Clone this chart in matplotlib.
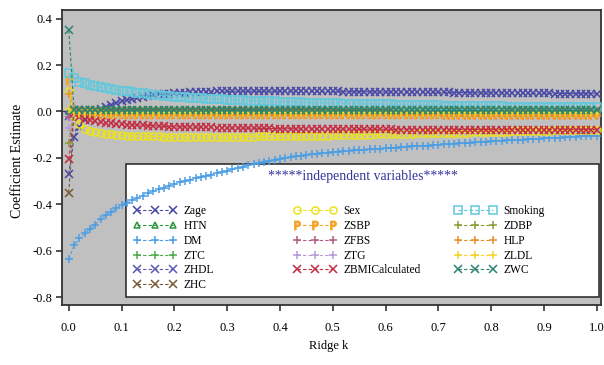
import numpy as np
import matplotlib
matplotlib.use("Agg")
import matplotlib.pyplot as plt
from matplotlib.patches import Rectangle

plt.rcParams["font.family"] = ["Liberation Serif", "DejaVu Serif"]
plt.rcParams["axes.unicode_minus"] = False

# ridge trace grid: k = 0.00, 0.01, ..., 1.00
ridge_k = np.linspace(0.0, 1.0, 101)

zage = [
    -0.270, -0.110, -0.065, -0.035, -0.015, -0.002, 0.010, 0.020, 0.029, 0.037, 0.044,
    0.050, 0.055, 0.060, 0.064, 0.067, 0.070, 0.073, 0.075, 0.077, 0.079,
    0.080, 0.081, 0.082, 0.083, 0.084, 0.085, 0.085, 0.086, 0.086, 0.086,
    0.087, 0.087, 0.087, 0.087, 0.087, 0.087, 0.087, 0.087, 0.087, 0.087,
    0.087, 0.087, 0.086, 0.086, 0.086, 0.086, 0.086, 0.086, 0.086, 0.086,
    0.086, 0.085, 0.085, 0.085, 0.085, 0.085, 0.085, 0.084, 0.084, 0.084,
    0.084, 0.084, 0.083, 0.083, 0.083, 0.083, 0.083, 0.082, 0.082, 0.082,
    0.082, 0.082, 0.081, 0.081, 0.081, 0.081, 0.080, 0.080, 0.080, 0.080,
    0.080, 0.079, 0.079, 0.079, 0.079, 0.079, 0.078, 0.078, 0.078, 0.078,
    0.078, 0.077, 0.077, 0.077, 0.077, 0.077, 0.076, 0.076, 0.076, 0.076,
]
htn = [
    0.002, 0.004, 0.004, 0.003, 0.003, 0.003, 0.003, 0.002, 0.002, 0.002, 0.002,
    0.002, 0.002, 0.002, 0.002, 0.002, 0.002, 0.002, 0.002, 0.002, 0.002,
    0.002, 0.002, 0.002, 0.002, 0.002, 0.002, 0.002, 0.002, 0.002, 0.002,
    0.002, 0.002, 0.002, 0.002, 0.002, 0.001, 0.001, 0.001, 0.001, 0.001,
    0.001, 0.001, 0.001, 0.001, 0.001, 0.001, 0.001, 0.001, 0.001, 0.001,
    0.001, 0.001, 0.001, 0.001, 0.001, 0.001, 0.001, 0.001, 0.001, 0.001,
    0.001, 0.001, 0.001, 0.001, 0.001, 0.001, 0.001, 0.001, 0.001, 0.001,
    0.001, 0.001, 0.001, 0.001, 0.001, 0.001, 0.001, 0.001, 0.001, 0.001,
    0.001, 0.001, 0.001, 0.001, 0.001, 0.001, 0.001, 0.001, 0.001, 0.001,
    0.001, 0.001, 0.001, 0.001, 0.001, 0.001, 0.001, 0.001, 0.001, 0.001,
]
dm = [
    -0.637, -0.576, -0.546, -0.525, -0.507, -0.488, -0.463, -0.447, -0.432, -0.418, -0.405,
    -0.394, -0.383, -0.373, -0.363, -0.352, -0.344, -0.336, -0.328, -0.320, -0.313,
    -0.306, -0.300, -0.294, -0.288, -0.282, -0.277, -0.272, -0.267, -0.262, -0.255,
    -0.250, -0.244, -0.238, -0.232, -0.227, -0.222, -0.217, -0.212, -0.208, -0.204,
    -0.200, -0.197, -0.194, -0.191, -0.188, -0.185, -0.182, -0.180, -0.178, -0.176,
    -0.174, -0.172, -0.170, -0.168, -0.167, -0.165, -0.163, -0.162, -0.160, -0.159,
    -0.157, -0.156, -0.154, -0.153, -0.151, -0.150, -0.148, -0.147, -0.145, -0.144,
    -0.142, -0.141, -0.139, -0.138, -0.136, -0.135, -0.133, -0.132, -0.131, -0.129,
    -0.128, -0.127, -0.125, -0.124, -0.123, -0.121, -0.120, -0.119, -0.118, -0.116,
    -0.115, -0.114, -0.113, -0.112, -0.111, -0.109, -0.108, -0.107, -0.106, -0.105,
]
ztc = [
    -0.012, -0.003, -0.002, -0.002, -0.002, -0.001, -0.001, -0.001, -0.001, -0.001, -0.001,
    -0.001, -0.001, -0.001, -0.001, -0.001, -0.001, -0.001, -0.001, -0.001, -0.001,
    -0.001, -0.001, -0.001, -0.001, -0.001, -0.001, -0.001, -0.001, -0.001, -0.001,
    -0.001, -0.001, -0.001, -0.001, -0.001, -0.001, -0.001, -0.001, -0.001, -0.001,
    -0.001, -0.001, -0.001, -0.001, -0.001, -0.001, -0.001, -0.001, -0.001, -0.001,
    -0.001, -0.001, -0.001, -0.001, -0.001, -0.001, -0.001, -0.001, -0.001, -0.001,
    -0.001, -0.001, -0.001, -0.001, -0.001, -0.001, -0.001, -0.001, -0.001, -0.001,
    -0.001, -0.001, -0.001, -0.001, -0.001, -0.001, -0.001, -0.001, -0.001, -0.001,
    -0.001, -0.001, -0.001, -0.001, -0.001, -0.001, -0.001, -0.001, -0.001, -0.001,
    -0.001, -0.001, -0.001, -0.001, -0.001, -0.001, -0.001, -0.001, -0.001, -0.001,
]
zhdl = [
    -0.020, -0.004, -0.003, -0.003, -0.002, -0.002, -0.002, -0.002, -0.002, -0.002, -0.002,
    -0.002, -0.002, -0.002, -0.002, -0.002, -0.002, -0.002, -0.002, -0.002, -0.002,
    -0.002, -0.002, -0.002, -0.002, -0.002, -0.002, -0.002, -0.002, -0.002, -0.002,
    -0.002, -0.002, -0.002, -0.002, -0.002, -0.002, -0.002, -0.002, -0.002, -0.002,
    -0.002, -0.002, -0.002, -0.002, -0.002, -0.002, -0.002, -0.002, -0.002, -0.002,
    -0.002, -0.002, -0.002, -0.002, -0.002, -0.002, -0.002, -0.002, -0.002, -0.002,
    -0.002, -0.002, -0.002, -0.002, -0.002, -0.002, -0.002, -0.002, -0.002, -0.002,
    -0.002, -0.002, -0.002, -0.002, -0.002, -0.002, -0.002, -0.002, -0.002, -0.002,
    -0.002, -0.002, -0.002, -0.002, -0.002, -0.002, -0.002, -0.002, -0.002, -0.002,
    -0.002, -0.002, -0.002, -0.002, -0.002, -0.002, -0.002, -0.002, -0.002, -0.002,
]
zhc = [
    -0.350, 0.006, 0.005, 0.004, 0.004, 0.003, 0.003, 0.003, 0.003, 0.003, 0.003,
    0.003, 0.003, 0.003, 0.003, 0.003, 0.003, 0.003, 0.003, 0.003, 0.003,
    0.003, 0.003, 0.003, 0.003, 0.003, 0.003, 0.003, 0.003, 0.003, 0.003,
    0.003, 0.003, 0.003, 0.003, 0.003, 0.003, 0.003, 0.003, 0.003, 0.003,
    0.003, 0.003, 0.003, 0.003, 0.003, 0.003, 0.003, 0.003, 0.003, 0.003,
    0.003, 0.003, 0.003, 0.003, 0.003, 0.003, 0.003, 0.003, 0.003, 0.003,
    0.003, 0.003, 0.003, 0.003, 0.003, 0.003, 0.003, 0.003, 0.003, 0.003,
    0.003, 0.003, 0.003, 0.003, 0.003, 0.003, 0.003, 0.003, 0.003, 0.003,
    0.003, 0.003, 0.003, 0.003, 0.003, 0.003, 0.003, 0.003, 0.003, 0.003,
    0.003, 0.003, 0.003, 0.003, 0.003, 0.003, 0.003, 0.003, 0.003, 0.003,
]
sex = [
    0.090, -0.020, -0.055, -0.075, -0.085, -0.090, -0.094, -0.097, -0.099, -0.101, -0.103,
    -0.104, -0.105, -0.106, -0.107, -0.107, -0.108, -0.108, -0.109, -0.109, -0.109,
    -0.110, -0.110, -0.110, -0.110, -0.110, -0.110, -0.110, -0.110, -0.110, -0.110,
    -0.110, -0.109, -0.109, -0.109, -0.109, -0.108, -0.108, -0.108, -0.107, -0.107,
    -0.107, -0.106, -0.106, -0.106, -0.105, -0.105, -0.104, -0.104, -0.104, -0.103,
    -0.103, -0.102, -0.102, -0.101, -0.101, -0.100, -0.100, -0.099, -0.099, -0.098,
    -0.098, -0.097, -0.097, -0.096, -0.096, -0.095, -0.095, -0.094, -0.094, -0.093,
    -0.093, -0.092, -0.092, -0.091, -0.091, -0.090, -0.090, -0.089, -0.089, -0.088,
    -0.088, -0.087, -0.087, -0.086, -0.086, -0.085, -0.085, -0.084, -0.084, -0.083,
    -0.083, -0.082, -0.082, -0.081, -0.081, -0.080, -0.080, -0.079, -0.079, -0.078,
]
zsbp = [
    0.135, -0.004, -0.006, -0.007, -0.008, -0.008, -0.009, -0.009, -0.009, -0.010, -0.010,
    -0.010, -0.010, -0.010, -0.010, -0.010, -0.010, -0.010, -0.010, -0.010, -0.010,
    -0.010, -0.010, -0.010, -0.010, -0.010, -0.010, -0.010, -0.010, -0.010, -0.010,
    -0.010, -0.010, -0.010, -0.010, -0.010, -0.010, -0.010, -0.010, -0.010, -0.010,
    -0.010, -0.010, -0.010, -0.010, -0.010, -0.010, -0.010, -0.010, -0.010, -0.010,
    -0.010, -0.010, -0.010, -0.010, -0.010, -0.010, -0.010, -0.010, -0.010, -0.010,
    -0.010, -0.010, -0.010, -0.010, -0.010, -0.010, -0.010, -0.010, -0.010, -0.010,
    -0.010, -0.010, -0.010, -0.010, -0.010, -0.010, -0.010, -0.010, -0.010, -0.010,
    -0.010, -0.010, -0.010, -0.010, -0.010, -0.010, -0.010, -0.010, -0.010, -0.010,
    -0.010, -0.010, -0.010, -0.010, -0.010, -0.010, -0.010, -0.010, -0.010, -0.010,
]
zfbs = [
    -0.025, -0.005, -0.004, -0.004, -0.004, -0.004, -0.004, -0.004, -0.004, -0.004, -0.004,
    -0.004, -0.004, -0.004, -0.004, -0.004, -0.004, -0.004, -0.004, -0.004, -0.004,
    -0.004, -0.004, -0.004, -0.004, -0.004, -0.004, -0.004, -0.004, -0.004, -0.004,
    -0.004, -0.004, -0.004, -0.004, -0.004, -0.004, -0.004, -0.004, -0.004, -0.004,
    -0.004, -0.004, -0.004, -0.004, -0.004, -0.004, -0.004, -0.004, -0.004, -0.004,
    -0.004, -0.004, -0.004, -0.004, -0.004, -0.004, -0.004, -0.004, -0.004, -0.004,
    -0.004, -0.004, -0.004, -0.004, -0.004, -0.004, -0.004, -0.004, -0.004, -0.004,
    -0.004, -0.004, -0.004, -0.004, -0.004, -0.004, -0.004, -0.004, -0.004, -0.004,
    -0.004, -0.004, -0.004, -0.004, -0.004, -0.004, -0.004, -0.004, -0.004, -0.004,
    -0.004, -0.004, -0.004, -0.004, -0.004, -0.004, -0.004, -0.004, -0.004, -0.004,
]
ztg = [
    -0.070, -0.004, -0.003, -0.003, -0.003, -0.003, -0.003, -0.003, -0.003, -0.003, -0.003,
    -0.003, -0.003, -0.003, -0.003, -0.003, -0.003, -0.003, -0.003, -0.003, -0.003,
    -0.003, -0.003, -0.003, -0.003, -0.003, -0.003, -0.003, -0.003, -0.003, -0.003,
    -0.003, -0.003, -0.003, -0.003, -0.003, -0.003, -0.003, -0.003, -0.003, -0.003,
    -0.003, -0.003, -0.003, -0.003, -0.003, -0.003, -0.003, -0.003, -0.003, -0.003,
    -0.003, -0.003, -0.003, -0.003, -0.003, -0.003, -0.003, -0.003, -0.003, -0.003,
    -0.003, -0.003, -0.003, -0.003, -0.003, -0.003, -0.003, -0.003, -0.003, -0.003,
    -0.003, -0.003, -0.003, -0.003, -0.003, -0.003, -0.003, -0.003, -0.003, -0.003,
    -0.003, -0.003, -0.003, -0.003, -0.003, -0.003, -0.003, -0.003, -0.003, -0.003,
    -0.003, -0.003, -0.003, -0.003, -0.003, -0.003, -0.003, -0.003, -0.003, -0.003,
]
zbmi = [
    -0.205, -0.008, -0.022, -0.031, -0.038, -0.043, -0.047, -0.050, -0.052, -0.054, -0.056,
    -0.057, -0.058, -0.059, -0.060, -0.061, -0.062, -0.063, -0.064, -0.065, -0.066,
    -0.066, -0.067, -0.067, -0.068, -0.068, -0.069, -0.069, -0.070, -0.070, -0.071,
    -0.071, -0.071, -0.072, -0.072, -0.072, -0.073, -0.073, -0.073, -0.074, -0.074,
    -0.074, -0.074, -0.075, -0.075, -0.075, -0.075, -0.075, -0.076, -0.076, -0.076,
    -0.076, -0.076, -0.076, -0.077, -0.077, -0.077, -0.077, -0.077, -0.077, -0.077,
    -0.077, -0.078, -0.078, -0.078, -0.078, -0.078, -0.078, -0.078, -0.078, -0.078,
    -0.078, -0.078, -0.078, -0.078, -0.078, -0.078, -0.078, -0.078, -0.078, -0.078,
    -0.078, -0.078, -0.078, -0.078, -0.078, -0.078, -0.078, -0.078, -0.078, -0.078,
    -0.078, -0.078, -0.078, -0.078, -0.078, -0.078, -0.078, -0.078, -0.078, -0.078,
]
smoking = [
    0.165, 0.142, 0.128, 0.121, 0.116, 0.111, 0.106, 0.102, 0.098, 0.094, 0.090,
    0.087, 0.084, 0.081, 0.078, 0.075, 0.072, 0.070, 0.068, 0.066, 0.064,
    0.062, 0.061, 0.059, 0.058, 0.057, 0.055, 0.054, 0.053, 0.052, 0.051,
    0.050, 0.049, 0.048, 0.047, 0.046, 0.045, 0.044, 0.043, 0.043, 0.042,
    0.041, 0.040, 0.040, 0.039, 0.038, 0.038, 0.037, 0.036, 0.036, 0.035,
    0.035, 0.034, 0.034, 0.033, 0.033, 0.032, 0.032, 0.031, 0.031, 0.030,
    0.030, 0.029, 0.029, 0.028, 0.028, 0.027, 0.027, 0.027, 0.026, 0.026,
    0.025, 0.025, 0.025, 0.024, 0.024, 0.024, 0.023, 0.023, 0.023, 0.022,
    0.022, 0.022, 0.021, 0.021, 0.021, 0.020, 0.020, 0.020, 0.019, 0.019,
    0.019, 0.019, 0.018, 0.018, 0.018, 0.018, 0.017, 0.017, 0.017, 0.017,
]
zdbp = [
    -0.135, 0.003, 0.003, 0.002, 0.002, 0.002, 0.002, 0.002, 0.002, 0.002, 0.002,
    0.002, 0.002, 0.002, 0.002, 0.002, 0.002, 0.002, 0.002, 0.002, 0.002,
    0.002, 0.002, 0.002, 0.002, 0.002, 0.002, 0.002, 0.002, 0.002, 0.002,
    0.002, 0.002, 0.002, 0.002, 0.002, 0.002, 0.002, 0.002, 0.002, 0.002,
    0.002, 0.002, 0.002, 0.002, 0.002, 0.002, 0.002, 0.002, 0.002, 0.002,
    0.002, 0.002, 0.002, 0.002, 0.002, 0.002, 0.002, 0.002, 0.002, 0.002,
    0.002, 0.002, 0.002, 0.002, 0.002, 0.002, 0.002, 0.002, 0.002, 0.002,
    0.002, 0.002, 0.002, 0.002, 0.002, 0.002, 0.002, 0.002, 0.002, 0.002,
    0.002, 0.002, 0.002, 0.002, 0.002, 0.002, 0.002, 0.002, 0.002, 0.002,
    0.002, 0.002, 0.002, 0.002, 0.002, 0.002, 0.002, 0.002, 0.002, 0.002,
]
hlp = [
    0.075, -0.008, -0.010, -0.012, -0.013, -0.014, -0.014, -0.015, -0.015, -0.015, -0.015,
    -0.015, -0.015, -0.015, -0.015, -0.016, -0.016, -0.016, -0.016, -0.016, -0.016,
    -0.016, -0.016, -0.016, -0.016, -0.016, -0.016, -0.016, -0.016, -0.016, -0.016,
    -0.016, -0.016, -0.016, -0.016, -0.016, -0.016, -0.016, -0.016, -0.016, -0.017,
    -0.017, -0.017, -0.017, -0.017, -0.017, -0.017, -0.017, -0.017, -0.017, -0.017,
    -0.017, -0.017, -0.017, -0.017, -0.017, -0.017, -0.017, -0.017, -0.017, -0.017,
    -0.017, -0.017, -0.017, -0.017, -0.017, -0.017, -0.017, -0.017, -0.017, -0.017,
    -0.018, -0.018, -0.018, -0.018, -0.018, -0.018, -0.018, -0.018, -0.018, -0.018,
    -0.018, -0.018, -0.018, -0.018, -0.018, -0.018, -0.018, -0.018, -0.018, -0.018,
    -0.018, -0.018, -0.018, -0.018, -0.018, -0.018, -0.018, -0.018, -0.018, -0.018,
]
zldl = [
    0.010, -0.004, -0.005, -0.005, -0.006, -0.006, -0.006, -0.006, -0.006, -0.006, -0.006,
    -0.006, -0.006, -0.006, -0.006, -0.006, -0.006, -0.006, -0.006, -0.006, -0.006,
    -0.006, -0.006, -0.006, -0.006, -0.006, -0.006, -0.006, -0.006, -0.006, -0.006,
    -0.006, -0.006, -0.006, -0.006, -0.006, -0.006, -0.006, -0.006, -0.006, -0.006,
    -0.006, -0.006, -0.006, -0.006, -0.006, -0.006, -0.006, -0.006, -0.006, -0.006,
    -0.006, -0.006, -0.006, -0.006, -0.006, -0.006, -0.006, -0.006, -0.006, -0.006,
    -0.006, -0.006, -0.006, -0.006, -0.006, -0.006, -0.006, -0.006, -0.006, -0.006,
    -0.006, -0.006, -0.006, -0.006, -0.006, -0.006, -0.006, -0.006, -0.006, -0.006,
    -0.006, -0.006, -0.006, -0.006, -0.006, -0.006, -0.006, -0.006, -0.006, -0.006,
    -0.006, -0.006, -0.006, -0.006, -0.006, -0.006, -0.006, -0.006, -0.006, -0.006,
]
zwc = [
    0.350, 0.005, 0.004, 0.004, 0.004, 0.004, 0.004, 0.004, 0.004, 0.004, 0.004,
    0.004, 0.004, 0.004, 0.004, 0.004, 0.004, 0.004, 0.004, 0.004, 0.004,
    0.004, 0.004, 0.004, 0.004, 0.004, 0.004, 0.004, 0.004, 0.004, 0.004,
    0.004, 0.004, 0.004, 0.004, 0.004, 0.004, 0.004, 0.004, 0.004, 0.004,
    0.004, 0.004, 0.004, 0.004, 0.004, 0.004, 0.004, 0.004, 0.004, 0.004,
    0.004, 0.004, 0.004, 0.004, 0.004, 0.004, 0.004, 0.004, 0.004, 0.004,
    0.004, 0.004, 0.004, 0.004, 0.004, 0.004, 0.004, 0.004, 0.004, 0.004,
    0.004, 0.004, 0.004, 0.004, 0.004, 0.004, 0.004, 0.004, 0.004, 0.004,
    0.004, 0.004, 0.004, 0.004, 0.004, 0.004, 0.004, 0.004, 0.004, 0.004,
    0.004, 0.004, 0.004, 0.004, 0.004, 0.004, 0.004, 0.004, 0.004, 0.004,
]

x_ticks = [0.0, 0.1, 0.2, 0.3, 0.4, 0.5, 0.6, 0.7, 0.8, 0.9, 1.0]
y_ticks = [-0.8, -0.6, -0.4, -0.2, 0.0, 0.2, 0.4]

# label, values, colour, marker, marker size  (legend column order)
series = [
    ("Zage", zage, "#4747a6", "x", 5.2),
    ("HTN", htn, "#2f9440", "^", 5.0),
    ("DM", dm, "#4c9ee4", "+", 6.3),
    ("ZTC", ztc, "#4cab48", "+", 6.3),
    ("ZHDL", zhdl, "#5a5ab4", "x", 5.2),
    ("ZHC", zhc, "#7a5a34", "x", 5.2),
    ("Sex", sex, "#ece21e", "o", 5.2),
    ("ZSBP", zsbp, "#f4a52a", r"$\mathsf{P}$", 6.0),
    ("ZFBS", zfbs, "#b25c84", "+", 6.3),
    ("ZTG", ztg, "#b99ad8", "+", 6.3),
    ("ZBMICalculated", zbmi, "#c42a40", "x", 5.2),
    ("Smoking", smoking, "#62c8dc", "s", 5.4),
    ("ZDBP", zdbp, "#8c9a32", "+", 6.3),
    ("HLP", hlp, "#e8902c", "+", 6.3),
    ("ZLDL", zldl, "#f2d42a", "+", 6.3),
    ("ZWC", zwc, "#2a8272", "x", 5.2),
]

fig = plt.figure(figsize=(6.04, 3.65), dpi=100)
ax = fig.add_axes([0.1026, 0.1644, 0.8924, 0.8082])
ax.set_facecolor("#c0c0c0")

ax.axhline(0.0, color="#2e2e9c", linewidth=0.9, zorder=1.6)

handles = []
for label, vals, color, marker, ms in series:
    (ln,) = ax.plot(ridge_k, vals, color=color, marker=marker, markersize=ms,
                    markerfacecolor="none", markeredgewidth=1.1,
                    linewidth=0.8, linestyle=(0, (3, 2)), label=label, zorder=3)
    handles.append(ln)

ax.set_xlim(-0.013, 1.008)
ax.set_ylim(-0.834, 0.437)
ax.set_xticks(x_ticks)
ax.set_xticklabels([f"{v:.1f}" for v in x_ticks])
ax.set_yticks(y_ticks)
ax.set_yticklabels([f"{v:.1f}" for v in y_ticks])
ax.tick_params(axis="both", direction="out", length=4, width=1.1,
               labelsize=9, color="#222222")
ax.tick_params(axis="x", pad=8)
ax.tick_params(axis="y", pad=3)
for sp in ax.spines.values():
    sp.set_color("#333333")
    sp.set_linewidth(1.3)

ax.set_xlabel("Ridge k", fontsize=9)
ax.xaxis.set_label_coords(0.495, -0.118)
ax.set_ylabel("Coefficient Estimate", fontsize=10)
ax.yaxis.set_label_coords(-0.070, 0.49)

# inset legend box
box = Rectangle((0.119, 0.027), 0.877, 0.451, transform=ax.transAxes,
                facecolor="white", edgecolor="#222222", linewidth=1.1, zorder=1.5)
ax.add_patch(box)
ax.text(0.5575, 0.434, "*****independent variables*****", transform=ax.transAxes,
        ha="center", va="center", fontsize=9.9, color="#34349c", zorder=7)

col_x = [0.1335, 0.4305, 0.7275]
groups = [handles[0:6], handles[6:11], handles[11:16]]
legs = []
for cx, grp in zip(col_x, groups):
    leg = ax.legend(handles=grp, loc="upper left", bbox_to_anchor=(cx, 0.338),
                    frameon=False, fontsize=8.3, numpoints=3, handlelength=3.7,
                    handletextpad=0.6, labelspacing=0.24, borderpad=0.0,
                    borderaxespad=0.0)
    leg.set_zorder(7)
    legs.append(leg)
for leg in legs[:-1]:
    ax.add_artist(leg)

fig.savefig("out.png", dpi=100)
